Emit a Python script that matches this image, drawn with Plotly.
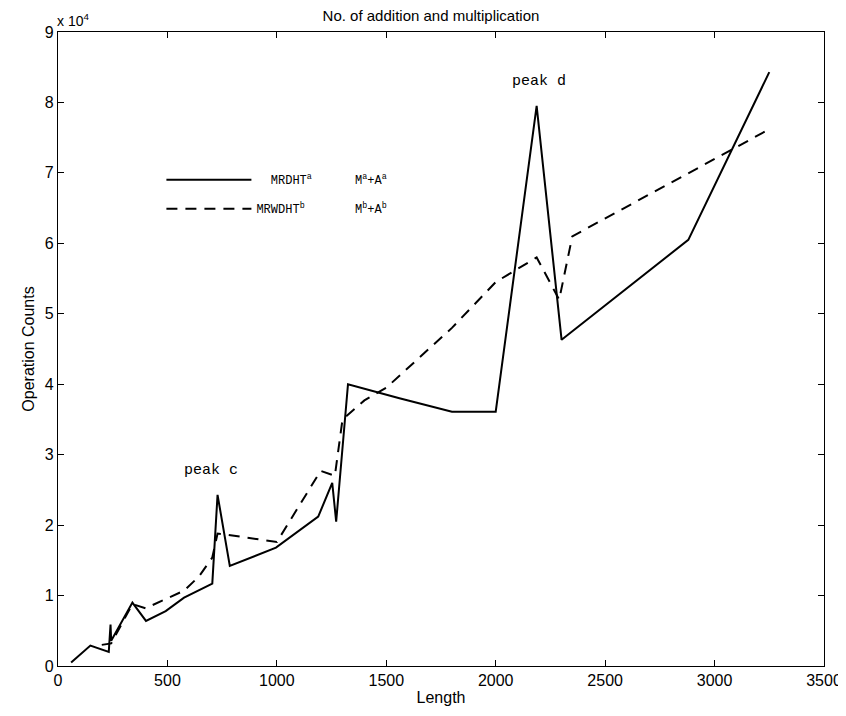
import plotly.graph_objects as go

# Series: MRDHT (solid)
mrdht_len = [60, 148, 232, 240, 243, 340, 402, 492, 576, 705, 729, 785, 996, 1189, 1253,
             1271, 1325, 1560, 1800, 2000, 2187, 2301, 2880, 3250]
mrdht_ops = [500, 2900, 2000, 5900, 3600, 9000, 6400, 7800, 9700, 11700, 24300, 14200, 16800,
             21200, 26000, 20500, 40000, 38000, 36100, 36100, 79500, 46300, 60500, 84300]

# Series: MRWDHT (dashed)
mrwdht_len = [200, 243, 340, 400, 492, 576, 644, 705, 729, 780, 1000, 1200, 1265, 1300, 1400,
              1500, 1800, 2000, 2187, 2290, 2350, 2880, 3250]
mrwdht_ops = [3000, 3200, 8800, 8200, 9500, 10700, 12700, 15400, 18800, 18600, 17600, 27700,
              27000, 35000, 37700, 39500, 48000, 54500, 58000, 52000, 61000, 70000, 76200]

ytick_vals = [0, 10000, 20000, 30000, 40000, 50000, 60000, 70000, 80000, 90000]
ytick_text = ["0", "1", "2", "3", "4", "5", "6", "7", "8", "9"]
xtick_vals = [0, 500, 1000, 1500, 2000, 2500, 3000, 3500]

peak_labels = ["peak c", "peak d"]
peak_x = [700, 2200]
peak_y = [27800, 83000]

NB = "\u00a0"
name_a = NB * 2 + "MRDHT<sup>a</sup>" + NB * 6 + "M<sup>a</sup>+A<sup>a</sup>"
name_b = "MRWDHT<sup>b</sup>" + NB * 7 + "M<sup>b</sup>+A<sup>b</sup>"

fig = go.Figure()
fig.add_trace(go.Scatter(x=mrdht_len, y=mrdht_ops, mode="lines", name=name_a,
                         legendgroup="a",
                         line=dict(color="black", width=2)))
fig.add_trace(go.Scatter(x=mrwdht_len, y=mrwdht_ops, mode="lines", name=name_b,
                         legendgroup="b",
                         line=dict(color="black", width=2, dash="11px,8px")))

for t, x, y in zip(peak_labels, peak_x, peak_y):
    fig.add_annotation(x=x, y=y, text=t, showarrow=False,
                       font=dict(family="Liberation Mono", size=15, color="black"))

fig.add_annotation(xref="paper", yref="paper", x=0, y=1, xanchor="left", yanchor="bottom",
                   xshift=-3, yshift=1, text="x 10<sup>4</sup>", showarrow=False,
                   font=dict(family="Liberation Sans", size=14, color="black"))

axis_common = dict(showline=True, linecolor="black", linewidth=1.3, mirror="ticks",
                   ticks="inside", ticklen=6, tickcolor="black", showgrid=False, zeroline=False,
                   tickfont=dict(family="Liberation Sans", size=16, color="black"))

fig.update_layout(
    width=846, height=716,
    margin=dict(l=50, r=23, t=24, b=58),
    paper_bgcolor="white", plot_bgcolor="white",
    title=dict(text="No. of addition and multiplication", x=0.5, xanchor="center",
               y=0.997, yanchor="top",
               font=dict(family="Liberation Sans", size=15, color="black")),
    xaxis=dict(range=[0, 3500], tickvals=xtick_vals,
               title=dict(text="Length", standoff=3,
                          font=dict(family="Liberation Sans", size=16, color="black")),
               **axis_common),
    yaxis=dict(range=[0, 90000], tickvals=ytick_vals, ticktext=ytick_text,
               title=dict(text="Operation Counts", standoff=6,
                          font=dict(family="Liberation Sans", size=16, color="black")),
               **axis_common),
    legend=dict(x=0.135, y=0.79, xanchor="left", yanchor="top", bgcolor="rgba(0,0,0,0)",
                borderwidth=0, font=dict(family="Liberation Mono", size=12, color="black"),
                itemwidth=85, tracegroupgap=10),
    showlegend=True,
)

fig.write_html("out.html")
